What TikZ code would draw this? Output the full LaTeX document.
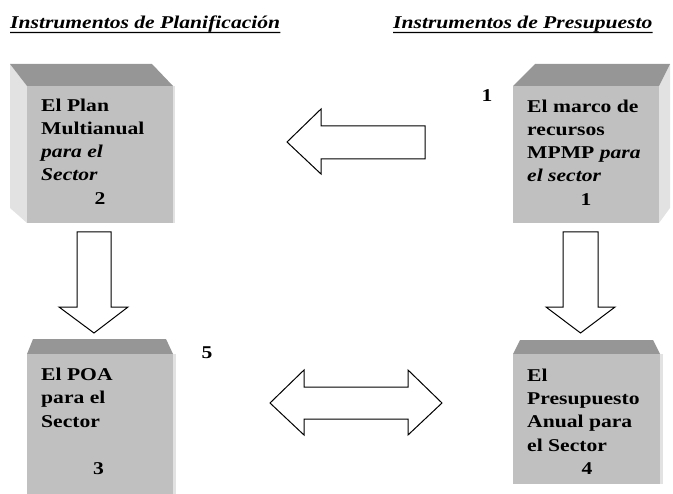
\documentclass[tikz,border=0pt]{standalone}
\usepackage{fontspec}
\setmainfont{Liberation Serif}[FakeStretch=1.2]
\definecolor{frontc}{RGB}{192,192,192}
\definecolor{topc}{RGB}{150,150,150}
\definecolor{sidec}{RGB}{226,226,226}
\begin{document}
\begin{tikzpicture}[x=1bp,y=-1bp,
  frontface/.style={fill=frontc, draw=none, inner sep=0pt, anchor=north west},
  topface/.style={fill=topc, draw=none},
  sideface/.style={fill=sidec, draw=none},
  txt/.style={anchor=base west, inner sep=0pt, font=\fontsize{18bp}{23bp}\selectfont\bfseries},
  itx/.style={anchor=base west, inner sep=0pt, font=\fontsize{18bp}{23bp}\selectfont\bfseries\itshape},
  num/.style={anchor=base, inner sep=0pt, font=\fontsize{18bp}{23bp}\selectfont\bfseries},
  head/.style={anchor=base west, inner sep=0pt, font=\fontsize{18bp}{19bp}\selectfont\bfseries\itshape},
  blockarrow/.style={draw=black, line width=1bp, fill=white, line join=miter}]
\useasboundingbox (0,0) rectangle (673,494);

% headings
\node[head] (h1) at (10,29) {Instrumentos de Planificación};
\node[head] (h2) at (393,29) {Instrumentos de Presupuesto};
\draw[line width=1.2bp] (h1.base west) ++(0,3.5) -- ([yshift=-3.5bp]h1.base east);
\draw[line width=1.2bp] (h2.base west) ++(0,3.5) -- ([yshift=-3.5bp]h2.base east);

% box 1 (top left)
\fill[sideface] (10,64) -- (27,86) -- (27,223) -- (10,208) -- cycle;
\fill[topface] (10,64) -- (152,64) -- (173,86) -- (27,86) -- cycle;
\fill[sideface] (173,86) rectangle (175,223);
\node[frontface, minimum width=146bp, minimum height=137bp] (b1) at (27,86) {};
\node[txt] (b1l1) at (41,112) {El Plan};
\node[txt] (b1l2) at (41,135) {Multianual};
\node[itx] (b1l3) at (41,158) {para el};
\node[itx] (b1l4) at (41,181) {Sector};
\node[num] (b1n) at (100,205) {2};

% box 2 (top right)
\fill[sideface] (670,64) -- (670,208) -- (659,223) -- (659,86) -- cycle;
\fill[topface] (535,64) -- (670,64) -- (659,86) -- (513,86) -- cycle;
\node[frontface, minimum width=146bp, minimum height=137bp] (b2) at (513,86) {};
\node[txt] (b2l1) at (527,113) {El marco de};
\node[txt] (b2l2) at (527,136) {recursos};
\node[txt] (b2l3) at (527,159) {MPMP \textit{para}};
\node[itx] (b2l4) at (527,182) {el sector};
\node[num] (b2n) at (586,206) {1};
\node[num] (out1) at (487,102) {1};

% box 3 (bottom left)
\fill[topface] (33,339) -- (166,339) -- (173,354) -- (27,354) -- cycle;
\fill[sideface] (173,354) rectangle (176,494);
\node[frontface, minimum width=146bp, minimum height=140bp] (b3) at (27,354) {};
\node[txt] (b3l1) at (41,380) {El POA};
\node[txt] (b3l2) at (41,403) {para el};
\node[txt] (b3l3) at (41,427) {Sector};
\node[num] (b3n) at (98.5,474) {3};
\node[num] (out5) at (207,358) {5};

% box 4 (bottom right)
\fill[topface] (520,340) -- (653,340) -- (660,354) -- (513,354) -- cycle;
\fill[sideface] (660,354) rectangle (663,484);
\node[frontface, minimum width=147bp, minimum height=130bp] (b4) at (513,354) {};
\node[txt] (b4l1) at (527,381) {El};
\node[txt] (b4l2) at (527,404) {Presupuesto};
\node[txt] (b4l3) at (527,427) {Anual para};
\node[txt] (b4l4) at (527,451) {el Sector};
\node[num] (b4n) at (587,474) {4};

% block arrows
\draw[blockarrow] (287,142) -- (321,109) -- (321,126) -- (425,126) -- (425,159) -- (321,159) -- (321,174) -- cycle;
\draw[blockarrow] (77,232) -- (111,232) -- (111,307) -- (128,307) -- (94,333) -- (59,307) -- (77,307) -- cycle;
\draw[blockarrow] (563,232) -- (598,232) -- (598,307) -- (615,307) -- (580.5,333) -- (546,307) -- (563,307) -- cycle;
\draw[blockarrow] (270,403) -- (304,370) -- (304,387) -- (408,387) -- (408,370) -- (442,403) -- (408,435) -- (408,419) -- (304,419) -- (304,435) -- cycle;
\end{tikzpicture}
\end{document}
